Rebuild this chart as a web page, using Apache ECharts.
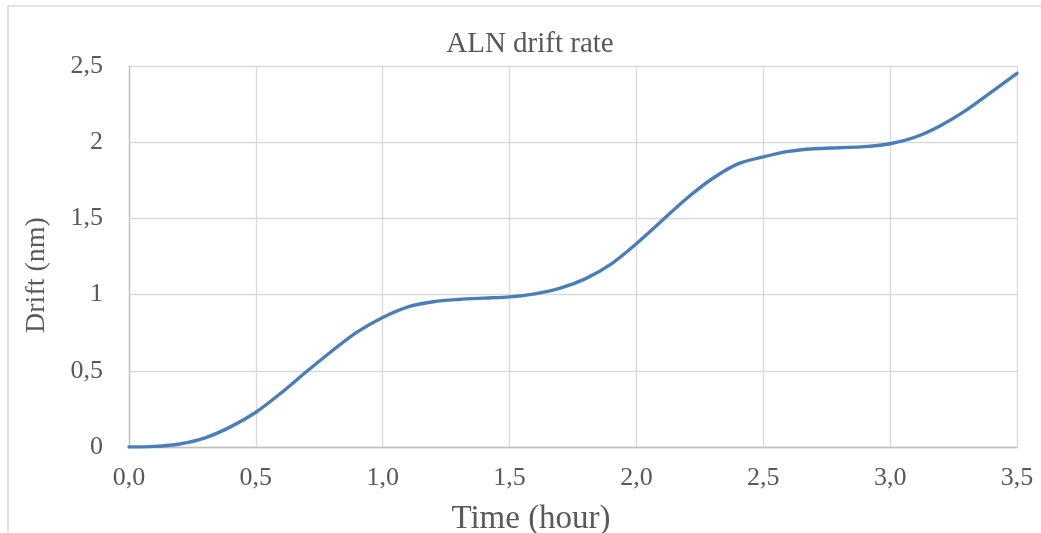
<!DOCTYPE html>
<html>
<head>
<meta charset="utf-8">
<script src="https://cdn.jsdelivr.net/npm/echarts@6/dist/echarts.min.js"></script>
<style>
  html, body { margin: 0; padding: 0; background: #ffffff; }
  #chart { width: 1041px; height: 533px; }
</style>
</head>
<body>
<div id="chart"></div>
<script>
// Drift of the ALN sample over time, sampled every 0.1 hour
const timeHours = [0.0, 0.1, 0.2, 0.3, 0.4, 0.5, 0.6, 0.7, 0.8, 0.9,
                   1.0, 1.1, 1.2, 1.3, 1.4, 1.5, 1.6, 1.7, 1.8, 1.9,
                   2.0, 2.1, 2.2, 2.3, 2.4, 2.5, 2.6, 2.7, 2.8, 2.9,
                   3.0, 3.1, 3.2, 3.3, 3.4, 3.5];
const driftNm = [0.000, 0.004, 0.020, 0.060, 0.132, 0.228, 0.355, 0.495, 0.630, 0.755,
                 0.850, 0.920, 0.953, 0.968, 0.977, 0.985, 1.005, 1.042, 1.105, 1.200,
                 1.334, 1.484, 1.634, 1.762, 1.858, 1.904, 1.940, 1.957, 1.964, 1.971,
                 1.990, 2.034, 2.110, 2.210, 2.330, 2.452];
const xTicks = ['0,0', '0,5', '1,0', '1,5', '2,0', '2,5', '3,0', '3,5'];
const yTicks = ['0', '0,5', '1', '1,5', '2', '2,5'];

const chartTitle = 'ALN drift rate';
const xName = 'Time (hour)';
const yName = 'Drift (nm)';

const FONT = '"Liberation Serif", "DejaVu Serif", serif';
const TEXT = '#595959';
const GRID = '#d9d9d9';
const AXIS = '#bfbfbf';

const chart = echarts.init(document.getElementById('chart'), null, { renderer: 'canvas' });

const points = timeHours.map((t, i) => [t, driftNm[i]]);

chart.setOption({
  animation: false,
  backgroundColor: '#ffffff',
  grid: { left: 129, right: 24, top: 66, bottom: 86, containLabel: false },
  graphic: [
    {
      type: 'rect',
      shape: { x: 8, y: 6, width: 1200, height: 800 },
      style: { fill: 'none', stroke: GRID, lineWidth: 1.5 },
      silent: true, z: -1
    },
    {
      type: 'text',
      x: 530, y: 30,
      style: { text: chartTitle, font: '29px ' + FONT, fill: TEXT, align: 'center', verticalAlign: 'top' }
    },
    {
      type: 'text',
      x: 531, y: 503,
      style: { text: xName, font: '33px ' + FONT, fill: TEXT, align: 'center', verticalAlign: 'top' }
    },
    {
      type: 'text',
      x: 37, y: 275, rotation: Math.PI / 2,
      style: { text: yName, font: '28px ' + FONT, fill: TEXT, align: 'center', verticalAlign: 'middle' }
    }
  ],
  xAxis: {
    type: 'value',
    min: 0, max: 3.5, interval: 0.5,
    axisLine: { show: true, lineStyle: { color: AXIS, width: 1.3 } },
    axisTick: { show: false },
    splitLine: { show: true, lineStyle: { color: GRID, width: 1.3 } },
    axisLabel: {
      color: TEXT, fontFamily: FONT, fontSize: 26, margin: 18,
      formatter: (v) => xTicks[Math.round(v / 0.5)]
    }
  },
  yAxis: {
    type: 'value',
    min: 0, max: 2.5, interval: 0.5,
    axisLine: { show: true, lineStyle: { color: AXIS, width: 1.3 } },
    axisTick: { show: false },
    splitLine: { show: true, lineStyle: { color: GRID, width: 1.3 } },
    axisLabel: {
      color: TEXT, fontFamily: FONT, fontSize: 26, margin: 26,
      formatter: (v) => yTicks[Math.round(v / 0.5)]
    }
  },
  series: [{
    type: 'line',
    data: points,
    smooth: 0.3,
    showSymbol: false,
    lineStyle: { color: '#4a7ebb', width: 3.4, cap: 'round', join: 'round' },
    z: 5
  }]
});
</script>
</body>
</html>
